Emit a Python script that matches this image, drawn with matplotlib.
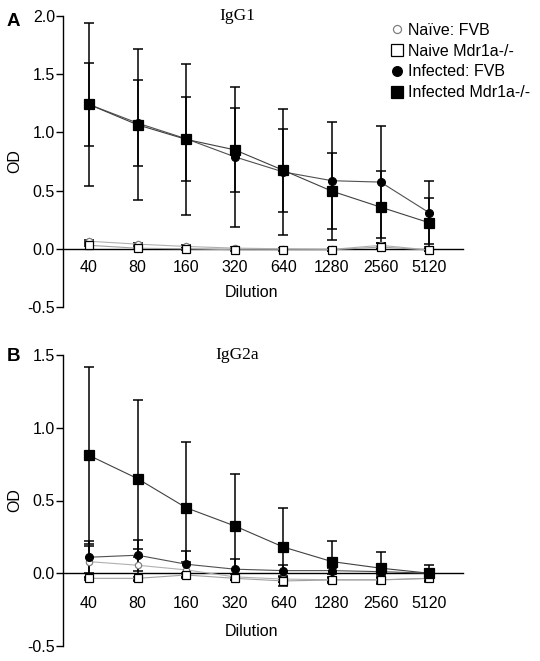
import numpy as np
import matplotlib
matplotlib.use('Agg')
import matplotlib.pyplot as plt
from matplotlib.lines import Line2D

plt.rcParams['font.family'] = ['Liberation Sans', 'DejaVu Sans']

dilutions = ['40', '80', '160', '320', '640', '1280', '2560', '5120']
series_names = ['Naïve: FVB', 'Naive Mdr1a-/-', 'Infected: FVB', 'Infected Mdr1a-/-']

# IgG1 (panel A)
nv_fvb_a = [0.065, 0.04, 0.02, 0.006, 0.0, -0.005, 0.03, -0.01]
nv_fvb_a_err = [0.01, 0.01, 0.01, 0.01, 0.01, 0.01, 0.02, 0.01]
nv_mdr_a = [0.03, 0.005, 0.0, -0.008, -0.008, -0.008, 0.015, -0.01]
nv_mdr_a_err = [0.01, 0.01, 0.01, 0.01, 0.01, 0.01, 0.01, 0.01]
inf_fvb_a = [1.24, 1.08, 0.945, 0.79, 0.66, 0.585, 0.573, 0.31]
inf_fvb_a_err = [0.36, 0.37, 0.36, 0.60, 0.54, 0.507, 0.482, 0.27]
inf_mdr_a = [1.24, 1.065, 0.94, 0.85, 0.674, 0.495, 0.358, 0.224]
inf_mdr_a_err = [0.70, 0.65, 0.65, 0.36, 0.356, 0.326, 0.307, 0.211]

# IgG2a (panel B)
nv_fvb_b = [0.08, 0.055, 0.023, -0.025, -0.04, -0.045, -0.045, -0.035]
nv_fvb_b_err = [0.11, 0.11, 0.057, 0.02, 0.02, 0.02, 0.02, 0.02]
nv_mdr_b = [-0.035, -0.035, -0.012, -0.035, -0.053, -0.046, -0.046, -0.035]
nv_mdr_b_err = [0.01, 0.01, 0.01, 0.01, 0.01, 0.01, 0.01, 0.01]
inf_fvb_b = [0.11, 0.124, 0.062, 0.028, 0.018, 0.018, 0.011, 0.0]
inf_fvb_b_err = [0.11, 0.106, 0.088, 0.068, 0.042, 0.02, 0.02, 0.02]
inf_mdr_b = [0.81, 0.65, 0.45, 0.325, 0.18, 0.08, 0.035, 0.0]
inf_mdr_b_err = [0.61, 0.54, 0.45, 0.355, 0.27, 0.14, 0.11, 0.057]

W, H = 540, 661
fig = plt.figure(figsize=(W / 100, H / 100), dpi=100)

x = np.arange(len(dilutions))

styles = [
    dict(marker='o', mfc='white', mec='#808080', ms=4.5, color='#b0b0b0'),
    dict(marker='s', mfc='white', mec='black', ms=5.2, color='#a0a0a0'),
    dict(marker='o', mfc='black', mec='black', ms=5.6, color='#505050'),
    dict(marker='s', mfc='black', mec='black', ms=6.6, color='#404040'),
]


def draw_panel(ax, data, ylim, yticks, title, tick_pad, letter, letter_y):
    for (vals, errs), st in zip(data, styles):
        ax.errorbar(x, vals, yerr=errs, fmt='none', ecolor='black',
                    elinewidth=1.1, capsize=3.4, capthick=1.1, zorder=2)
        ax.plot(x, vals, '-', lw=0.8, color=st['color'], zorder=3)
        ax.plot(x, vals, linestyle='none', marker=st['marker'], mfc=st['mfc'],
                mec=st['mec'], ms=st['ms'], mew=0.9, zorder=4)
    ax.set_xlim(-0.53, 7.69)
    ax.set_ylim(*ylim)
    ax.set_yticks(yticks)
    ax.set_yticklabels(['%.1f' % t for t in yticks])
    ax.set_xticks(x)
    ax.set_xticklabels(dilutions)
    ax.spines['top'].set_visible(False)
    ax.spines['right'].set_visible(False)
    ax.spines['bottom'].set_position(('data', 0))
    ax.spines['left'].set_linewidth(1.0)
    ax.spines['bottom'].set_linewidth(1.0)
    ax.tick_params(axis='x', length=0, pad=tick_pad, labelsize=11.5)
    ax.tick_params(axis='y', direction='out', length=4.8, width=1.0, pad=1.2, labelsize=11.5)
    ax.set_xlabel('Dilution', fontsize=11.5)
    ax.xaxis.set_label_coords(0.472, 0.05)
    ax.xaxis.label.set_va('center')
    ax.set_ylabel('OD', fontsize=11.5)
    ax.yaxis.set_label_coords(-0.121, 0.5)
    ax.yaxis.label.set_va('center')
    ax.text(0.435, 1.0, title, transform=ax.transAxes, ha='center', va='center',
            family='Liberation Serif', fontsize=12.5)
    fig.text(13.5 / W, 1 - letter_y / H, letter, ha='center', va='center',
             fontsize=13.5, fontweight='bold')


ax_a = fig.add_axes([63.3 / W, 1 - 307 / H, 399.4 / W, 291 / H])
draw_panel(ax_a,
           [(nv_fvb_a, nv_fvb_a_err), (nv_mdr_a, nv_mdr_a_err),
            (inf_fvb_a, inf_fvb_a_err), (inf_mdr_a, inf_mdr_a_err)],
           (-0.5, 2.0), [-0.5, 0.0, 0.5, 1.0, 1.5, 2.0], 'IgG1', 8.1, 'A', 21)

ax_b = fig.add_axes([63.3 / W, 1 - 646 / H, 399.4 / W, 291 / H])
draw_panel(ax_b,
           [(nv_fvb_b, nv_fvb_b_err), (nv_mdr_b, nv_mdr_b_err),
            (inf_fvb_b, inf_fvb_b_err), (inf_mdr_b, inf_mdr_b_err)],
           (-0.5, 1.5), [-0.5, 0.0, 0.5, 1.0, 1.5], 'IgG2a', 16.7, 'B', 357)

legend_sizes = [5.8, 8.0, 7.0, 8.6]
handles = [Line2D([], [], linestyle='none', marker=st['marker'], mfc=st['mfc'],
                  mec=st['mec'], ms=s, mew=0.9)
           for st, s in zip(styles, legend_sizes)]
ax_a.legend(handles, series_names, loc='upper left', frameon=False,
            bbox_to_anchor=(390.3 / W, 1 - 23 / H), bbox_transform=fig.transFigure,
            borderpad=0, borderaxespad=0, handlelength=0.8, handletextpad=0.3,
            labelspacing=0.36, fontsize=11.5)

fig.savefig('out.png', dpi=100)
